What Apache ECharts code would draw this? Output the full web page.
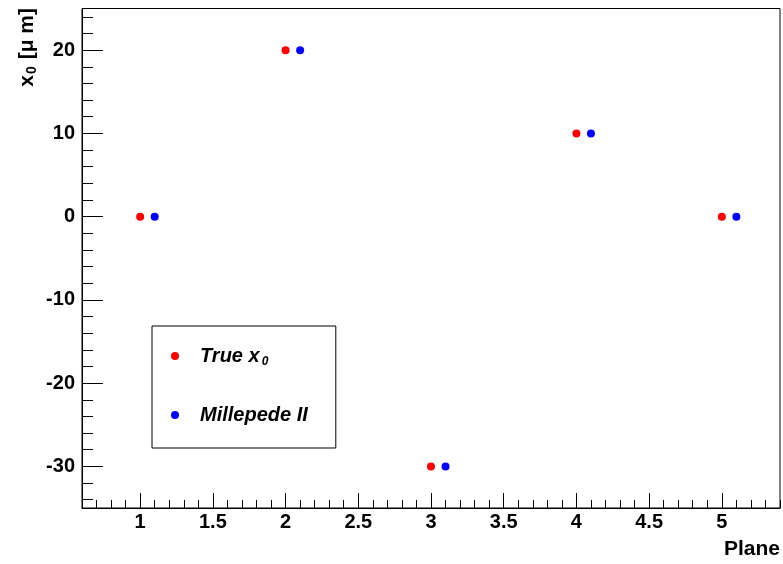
<!DOCTYPE html>
<html>
<head>
<meta charset="utf-8">
<script src="https://cdn.jsdelivr.net/npm/echarts@6/dist/echarts.min.js"></script>
<style>
html,body{margin:0;padding:0;background:#fff;}
#c{width:783px;height:564px;}
</style>
</head>
<body>
<div id="c"></div>
<script>
// ---- data ----
var planes = [1, 2, 3, 4, 5];
var trueX0 = [0, 20, -30, 10, 0];
var milleX = [1.1, 2.1, 3.1, 4.1, 5.1];
var milleX0 = [0, 20, -30, 10, 0];
var xMajorTicks = [1, 1.5, 2, 2.5, 3, 3.5, 4, 4.5, 5];
var yMajorTicks = [-30, -20, -10, 0, 10, 20];
var xRange = [0.6, 5.4];
var yRange = [-35, 25];

// minor ticks
var xMinor = [];
for (var i = 6; i <= 54; i++) xMinor.push(Math.round(i) / 10);
var yMinor = [];
for (var j = -34; j <= 24; j += 2) yMinor.push(j);

var FONT = '"Liberation Sans", Arial, Helvetica, sans-serif';

var chart = echarts.init(document.getElementById('c'), null, {renderer: 'canvas'});

function pairs(xs, ys) { return xs.map(function (x, k) { return [x, ys[k]]; }); }

var baseX = {
  type: 'value', min: xRange[0], max: xRange[1],
  splitLine: {show: false}
};
var baseY = {
  type: 'value', min: yRange[0], max: yRange[1],
  splitLine: {show: false}
};

var option = {
  animation: false,
  backgroundColor: '#fff',
  grid: {
    left: 82, right: 1.5, top: 8.5, bottom: 56,
    show: true, borderColor: '#000', borderWidth: 1, backgroundColor: 'transparent'
  },
  xAxis: [
    Object.assign({}, baseX, {
      position: 'bottom',
      axisLine: {show: true, onZero: false, lineStyle: {color: '#000', width: 1}},
      axisTick: {show: true, inside: true, length: 15, customValues: xMajorTicks, lineStyle: {color: '#000'}},
      axisLabel: {show: true, customValues: xMajorTicks, margin: 4, color: '#000',
        fontFamily: FONT, fontWeight: 'bold', fontSize: 20},
      name: 'Plane', nameLocation: 'end', nameGap: 0,
      nameTextStyle: {fontFamily: FONT, fontWeight: 'bold', fontSize: 21, color: '#000',
        align: 'right', verticalAlign: 'top', padding: [31, 0, 0, 0]}
    }),
    Object.assign({}, baseX, {
      position: 'bottom',
      axisLine: {show: false, onZero: false},
      axisTick: {show: true, inside: true, length: 8, customValues: xMinor, lineStyle: {color: '#000'}},
      axisLabel: {show: false}
    })
  ],
  yAxis: [
    Object.assign({}, baseY, {
      position: 'left',
      axisLine: {show: true, onZero: false, lineStyle: {color: '#000', width: 1}},
      axisTick: {show: true, inside: true, length: 21, customValues: yMajorTicks, lineStyle: {color: '#000'}},
      axisLabel: {show: true, customValues: yMajorTicks, margin: 7, color: '#000',
        fontFamily: FONT, fontWeight: 'bold', fontSize: 20}
    }),
    Object.assign({}, baseY, {
      position: 'left',
      axisLine: {show: false, onZero: false},
      axisTick: {show: true, inside: true, length: 11, customValues: yMinor, lineStyle: {color: '#000'}},
      axisLabel: {show: false}
    })
  ],
  legend: {
    show: true,
    orient: 'vertical',
    left: 152, top: 326,
    padding: [20, 28, 23, 19],
    itemGap: 37,
    itemWidth: 8, itemHeight: 8,
    borderColor: '#000', borderWidth: 1, backgroundColor: '#fff',
    data: [
      {name: 'True x0', icon: 'circle', itemStyle: {color: '#ff0000', opacity: 1}},
      {name: 'Millepede II', icon: 'circle', itemStyle: {color: '#0000ff', opacity: 1}}
    ],
    formatter: function (n) {
      if (n === 'True x0') return '{t|True x}{s|0}';
      return '{t|' + n + '}';
    },
    textStyle: {
      color: '#000', fontFamily: FONT, fontWeight: 'bold', fontStyle: 'italic', fontSize: 20,
      lineHeight: 20, padding: [0, 0, 0, 16],
      rich: {
        t: {fontFamily: FONT, fontWeight: 'bold', fontStyle: 'italic', fontSize: 20, color: '#000'},
        s: {fontFamily: FONT, fontWeight: 'bold', fontStyle: 'italic', fontSize: 12, color: '#000',
          padding: [12, 0, 0, 2]}
      }
    }
  },
  graphic: [{
    type: 'text',
    x: 27, y: 8,
    rotation: Math.PI / 2,
    style: {
      text: '{a|x}{s|0}{a| [μ m]}',
      textAlign: 'right', textVerticalAlign: 'middle',
      fill: '#000',
      rich: {
        a: {fontFamily: FONT, fontWeight: 'bold', fontSize: 21, fill: '#000'},
        s: {fontFamily: FONT, fontWeight: 'bold', fontSize: 14, fill: '#000', padding: [10, 1, 0, 1]}
      }
    }
  }],
  series: [
    {
      name: 'True x0', type: 'scatter', xAxisIndex: 0, yAxisIndex: 0,
      symbol: 'circle', symbolSize: 8,
      itemStyle: {color: '#ff0000', opacity: 1},
      data: pairs(planes, trueX0)
    },
    {
      name: 'Millepede II', type: 'scatter', xAxisIndex: 0, yAxisIndex: 0,
      symbol: 'circle', symbolSize: 8,
      itemStyle: {color: '#0000ff', opacity: 1},
      data: pairs(milleX, milleX0)
    }
  ]
};
chart.setOption(option);
</script>
</body>
</html>
